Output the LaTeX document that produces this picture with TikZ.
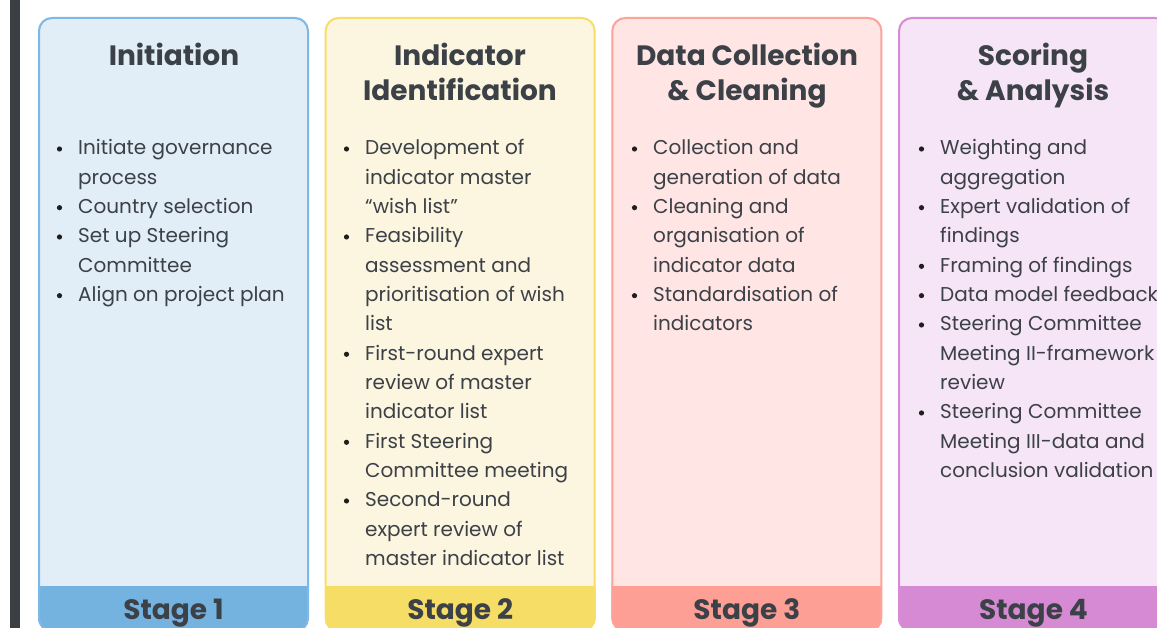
\documentclass[tikz,border=0pt]{standalone}
\usepackage{fontspec}
\setmainfont{Poppins}
\definecolor{barc}{HTML}{3B3E43}
\definecolor{txt}{HTML}{3C4047}
\definecolor{bulc}{HTML}{1E1E1E}
\definecolor{bA}{HTML}{7DB8E6}\definecolor{fA}{HTML}{E1EEF8}\definecolor{sA}{HTML}{74B3E0}
\definecolor{bB}{HTML}{F7DE6A}\definecolor{fB}{HTML}{FCF6E0}\definecolor{sB}{HTML}{F6DD66}
\definecolor{bC}{HTML}{FCA39A}\definecolor{fC}{HTML}{FFE6E5}\definecolor{sC}{HTML}{FE9F96}
\definecolor{bD}{HTML}{D98AD5}\definecolor{fD}{HTML}{F5E5F6}\definecolor{sD}{HTML}{D78AD4}
\tikzset{
  title/.style={anchor=base, inner sep=0pt, text=txt, font=\fontsize{28}{34}\selectfont\bfseries},
  stagelbl/.style={anchor=base, inner sep=0pt, text=txt, font=\fontsize{28}{34}\selectfont\bfseries},
  body/.style={anchor=base west, inner sep=0pt, text=txt, font=\fontsize{20}{29}\selectfont},
}
\newcommand\bodycol[3]{%
  \foreach[count=\k] \bb/\tx in {#3} {%
    \pgfmathsetmacro\yy{155+29.33*(\k-1)}%
    \node[body] (#1l\k) at (#2,\yy) {\tx};
    \ifnum\bb=1 \fill[bulc] (#2-18.5,\yy-6) circle (2.6); \fi
  }}
\begin{document}
\begin{tikzpicture}[x=1pt,y=-1pt]
\useasboundingbox (0,0) rectangle (1157,628);
\clip (0,0) rectangle (1157,628);
\fill[barc] (10,0) rectangle (20,628);
\foreach \i/\bc/\fc/\sc/\st in {0/bA/fA/sA/1, 1/bB/fB/sB/2, 2/bC/fC/sC/3, 3/bD/fD/sD/4} {
  \pgfmathsetmacro\L{38+286.67*\i}
  \begin{scope}
    \clip[rounded corners=14] (\L,17) rectangle ++(271,615);
    \fill[\fc] (\L,17) rectangle ++(271,615);
    \fill[\sc] (\L,586) rectangle ++(271,50);
  \end{scope}
  \draw[\bc, line width=2pt, rounded corners=13] (\L+1,18) rectangle ++(269,613);
  \node[stagelbl] (stage\st) at (\L+135.5,619) {Stage \st};
}
\node[title] (t1) at (174,66) {Initiation};
\node[title] (t2a) at (460,66) {Indicator};
\node[title] (t2b) at (460,101) {Identification};
\node[title] (t3a) at (747,66) {Data Collection};
\node[title] (t3b) at (747,101) {\& Cleaning};
\node[title] (t4a) at (1033,66) {Scoring};
\node[title] (t4b) at (1033,101) {\& Analysis};
\bodycol{ca}{78}{1/Initiate governance, 0/process, 1/Country selection, 1/Set up Steering, 0/Committee, 1/Align on project plan}
\bodycol{cb}{365}{1/Development of, 0/indicator master, 0/“wish list”, 1/Feasibility, 0/assessment and, 0/prioritisation of wish, 0/list, 1/First-round expert, 0/review of master, 0/indicator list, 1/First Steering, 0/Committee meeting, 1/Second-round, 0/expert review of, 0/master indicator list}
\bodycol{cc}{653}{1/Collection and, 0/generation of data, 1/Cleaning and, 0/organisation of, 0/indicator data, 1/Standardisation of, 0/indicators}
\bodycol{cd}{940}{1/Weighting and, 0/aggregation, 1/Expert validation of, 0/findings, 1/Framing of findings, 1/Data model feedback, 1/Steering Committee, 0/Meeting II-framework, 0/review, 1/Steering Committee, 0/Meeting III-data and, 0/conclusion validation}
\end{tikzpicture}
\end{document}
